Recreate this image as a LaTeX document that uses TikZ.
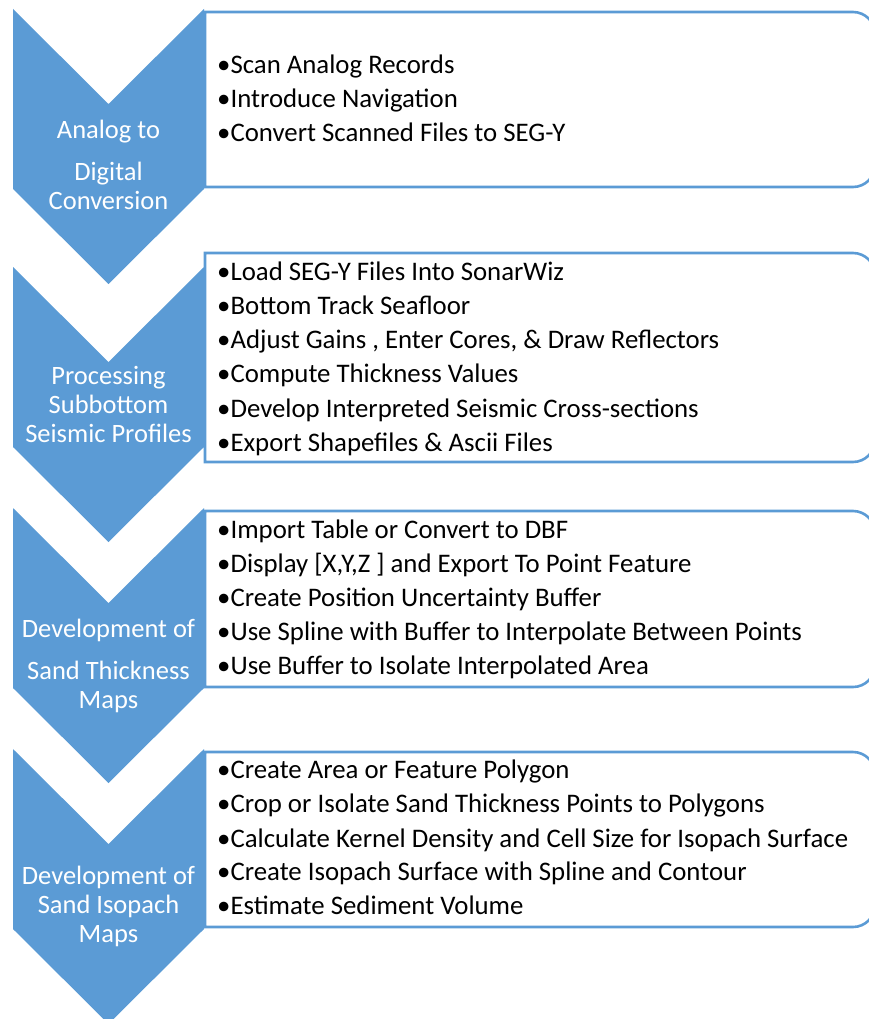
\documentclass[tikz,border=0pt]{standalone}
\usepackage{fontspec}
\setmainfont{Carlito}
\definecolor{stageblue}{HTML}{5B9BD5}
\begin{document}
\begin{tikzpicture}[x=1pt,y=-1pt,
  chev/.style={fill=stageblue,draw=none},
  stagebox/.style={draw=stageblue,line width=2.6pt,fill=white},
  item/.style={anchor=base west,inner sep=0pt,font=\fontsize{26.8}{30}\selectfont,text=black},
  title/.style={anchor=base,inner sep=0pt,font=\fontsize{26.5}{30}\selectfont,text=white}]
\useasboundingbox (0,0) rectangle (869,1019);
\clip (0,0) rectangle (869,1019);

% step boxes: square on the left, rounded on the right
\draw[stagebox] (205,12) -- (853,12) arc[start angle=90,end angle=0,radius=22pt]
  -- (875,165) arc[start angle=0,end angle=-90,radius=22pt] -- (205,187) -- cycle;
\draw[stagebox] (205,253) -- (853,253) arc[start angle=90,end angle=0,radius=22pt]
  -- (875,440) arc[start angle=0,end angle=-90,radius=22pt] -- (205,462) -- cycle;
\draw[stagebox] (205,511) -- (853,511) arc[start angle=90,end angle=0,radius=22pt]
  -- (875,665) arc[start angle=0,end angle=-90,radius=22pt] -- (205,687) -- cycle;
\draw[stagebox] (205,752) -- (853,752) arc[start angle=90,end angle=0,radius=22pt]
  -- (875,905) arc[start angle=0,end angle=-90,radius=22pt] -- (205,927) -- cycle;

% chevrons
\fill[chev] (13,9) -- (108.5,104) -- (204,9) -- (204,189) -- (108.5,284) -- (13,189) -- cycle;
\fill[chev] (13,267) -- (108.5,362) -- (204,267) -- (204,447) -- (108.5,542) -- (13,447) -- cycle;
\fill[chev] (13,508) -- (108.5,603) -- (204,508) -- (204,688) -- (108.5,783) -- (13,688) -- cycle;
\fill[chev] (13,749) -- (108.5,844) -- (204,749) -- (204,929) -- (108.5,1024) -- (13,929) -- cycle;

% chevron titles
\node[title] (t1a) at (108.5,139) {Analog to};
\node[title] (t1b) at (108.5,180) {Digital};
\node[title] (t1c) at (108.5,209) {Conversion};
\node[title] (t2a) at (108.5,384) {Processing};
\node[title] (t2b) at (108.5,413) {Subbottom};
\node[title] (t2c) at (108.5,442) {Seismic Profiles};
\node[title] (t3a) at (108.5,637) {Development of};
\node[title] (t3b) at (108.5,679) {Sand Thickness};
\node[title] (t3c) at (108.5,708) {Maps};
\node[title] (t4a) at (108.5,884) {Development of};
\node[title] (t4b) at (108.5,913) {Sand Isopach};
\node[title] (t4c) at (108.5,942) {Maps};

% bullet lists
\node[item] (b1a) at (217,74) {•Scan Analog Records};
\node[item] (b1b) at (217,108) {•Introduce Navigation};
\node[item] (b1c) at (217,142) {•Convert Scanned Files to SEG-Y};

\node[item] (b2a) at (217,280) {•Load SEG-Y Files Into SonarWiz};
\node[item] (b2b) at (217,314) {•Bottom Track Seafloor};
\node[item] (b2c) at (217,348) {•Adjust Gains , Enter Cores, \& Draw Reflectors};
\node[item] (b2d) at (217,382) {•Compute Thickness Values};
\node[item] (b2e) at (217,417) {•Develop Interpreted Seismic Cross-sections};
\node[item] (b2f) at (217,451) {•Export Shapefiles \& Ascii Files};

\node[item] (b3a) at (217,538) {•Import Table or Convert to DBF};
\node[item] (b3b) at (217,572) {•Display [X,Y,Z ] and Export To Point Feature};
\node[item] (b3c) at (217,606) {•Create Position Uncertainty Buffer};
\node[item] (b3d) at (217,640) {•Use Spline with Buffer to Interpolate Between Points};
\node[item] (b3e) at (217,674) {•Use Buffer to Isolate Interpolated Area};

\node[item] (b4a) at (217,778) {•Create Area or Feature Polygon};
\node[item] (b4b) at (217,812) {•Crop or Isolate Sand Thickness Points to Polygons};
\node[item] (b4c) at (217,847) {•Calculate Kernel Density and Cell Size for Isopach Surface};
\node[item] (b4d) at (217,880) {•Create Isopach Surface with Spline and Contour};
\node[item] (b4e) at (217,914) {•Estimate Sediment Volume};
\end{tikzpicture}
\end{document}
